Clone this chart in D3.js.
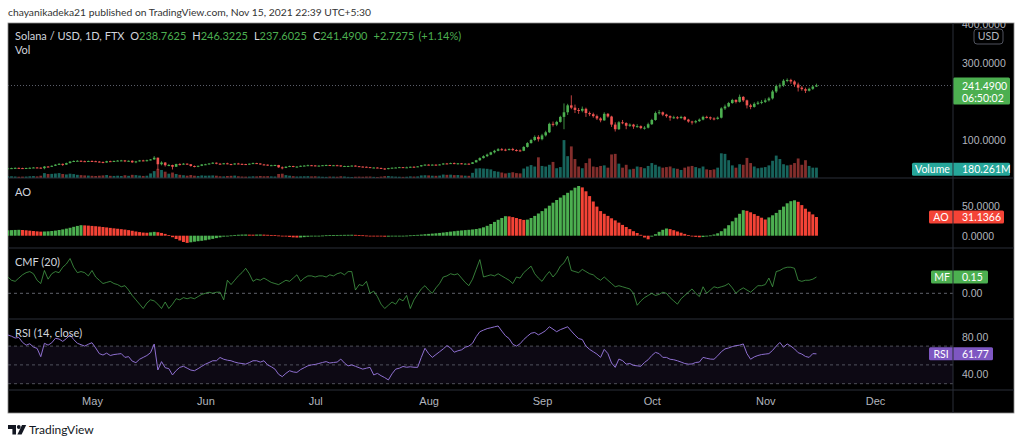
<!DOCTYPE html>
<html>
<head>
<meta charset="utf-8">
<script src="https://cdn.jsdelivr.net/npm/d3@7"></script>
<style>
	body { margin: 0; background: #fff; }
	svg { display: block; font-family: Lato, "Noto Sans", sans-serif; }
	.axis text { fill: #b2b5be; font-size: 10.5px; }
	.axis path { display: none; }
</style>
</head>
<body>
<svg id="chart" width="1024" height="444"></svg>
<script>

var startDate = '2021-04-08';
var firstOpen = 26.0;

var closes = [
	26.6, 27.0, 27.6, 27.1, 26.4, 27.3, 27.8, 28.6, 28.2, 26.8, 31.0, 30.5, 33.0, 36.0, 38.0, 36.0, 40.0, 44.0, 45.5, 46.0, 45.0, 44.0, 45.5,
	45.0, 44.0, 43.0, 41.5, 45.0, 44.0, 45.5, 46.5, 47.0, 44.5, 46.0, 42.0, 44.5, 47.0, 46.5, 47.5, 49.5, 54.0, 37.0, 41.5, 34.5, 35.0, 30.5, 37.5, 36.5, 38.5, 37.0, 32.5, 30.5, 33.0, 36.5,
	37.0, 39.0, 41.0, 38.5, 37.5, 39.5, 37.5, 37.0, 39.0, 38.0, 37.5, 36.5, 38.5, 40.0, 39.0, 36.5, 36.0, 34.0, 34.5, 35.0, 29.0, 27.5, 30.5, 32.5, 30.5, 31.0, 33.0, 33.5, 34.5, 34.0,
	32.5, 33.5, 34.5, 35.0, 33.5, 34.5, 34.0, 31.5, 32.5, 32.5, 33.5, 32.0, 31.0, 30.5, 29.5, 28.0, 28.5, 27.5, 26.0, 24.5, 27.0, 28.0, 28.5, 29.5, 28.5, 29.0, 30.5, 30.0, 31.5, 34.5, 36.0,
	35.0, 36.0, 35.0, 36.5, 39.0, 38.5, 40.0, 38.0, 39.5, 38.0, 38.5, 38.0, 42.0, 47.5, 53.0, 58.0, 62.0, 68.0, 72.0, 76.0, 75.0, 74.0, 76.5, 74.0, 73.0, 72.0, 82.0, 92.0, 100.0, 108.0, 102.0,
	112, 120, 142, 140, 147, 160, 172, 190, 184, 178, 176, 181, 170, 167, 162, 156, 151, 168, 161, 140, 128, 146, 144, 137, 140, 135, 136, 131, 132, 141,
	152, 170, 172, 166, 162, 158, 159, 157, 160, 153, 148, 146, 149, 153, 160, 159, 156, 155, 158, 182, 187, 196, 204, 199, 212, 203, 190, 186, 194, 197, 199,
	203, 208, 226, 240, 242, 254, 256, 252, 244, 236, 232, 228, 233, 238.7625, 241.49
];

var highs = [
	27.8, 28.0, 28.9, 28.4, 27.9, 28.2, 29.0, 29.4, 29.6, 28.9, 32.5, 32.4, 33.9, 37.2, 40.1, 38.8, 41.2, 45.1, 47.0, 47.8, 47.2, 46.5, 46.6,
	47.1, 46.2, 45.3, 44.0, 46.1, 46.4, 46.8, 48.0, 48.4, 48.1, 47.0, 47.2, 45.8, 48.2, 48.6, 49.0, 50.5, 58.3, 54.5, 44.8, 42.6, 37.8, 35.9, 38.4, 39.6, 40.2, 39.4, 37.5, 33.9, 33.6, 37.2,
	38.2, 39.8, 42.3, 41.6, 39.9, 40.3, 41.0, 38.2, 39.7, 40.6, 38.9, 38.1, 39.0, 41.4, 40.8, 39.5, 37.8, 36.4, 35.6, 35.8, 35.4, 31.4, 31.8, 33.5, 33.0, 31.7, 33.6, 34.8, 36.0, 35.2,
	34.4, 34.0, 35.0, 35.9, 35.4, 35.2, 35.6, 34.2, 33.1, 33.3, 34.0, 34.1, 32.5, 31.5, 31.2, 30.0, 29.2, 29.1, 28.0, 26.6, 27.6, 28.6, 29.0, 30.2, 29.9, 30.8, 31.0, 31.8, 32.0, 35.1, 36.9,
	37.0, 36.8, 36.6, 37.2, 39.8, 40.4, 41.2, 41.5, 40.1, 40.3, 39.6, 39.4, 42.8, 48.5, 55.0, 60.2, 64.8, 69.5, 74.5, 78.9, 79.0, 77.5, 78.2, 79.6, 76.1, 75.5, 84.0, 94.5, 103.0, 112.0, 112.5,
	116, 124, 145, 148, 150, 163, 195, 194, 216, 192, 183, 187, 184, 174, 171, 166, 159, 172, 170, 163, 146, 149, 152, 146, 143, 142, 141, 138, 136, 145,
	155, 174, 178, 174, 168, 164, 163, 162, 163, 162, 155, 150, 152, 156, 163, 163, 161, 159, 161, 185, 192, 199, 207, 206, 218, 214, 205, 194, 198, 201, 204,
	208, 212, 230, 244, 247, 258, 260, 259, 255, 249, 240, 236, 236, 242, 246.3225
];

var lows = [
	25.2, 25.9, 26.4, 26.5, 25.6, 25.9, 26.8, 27.2, 27.0, 25.8, 24.0, 29.6, 29.8, 32.4, 35.1, 32.6, 35.4, 39.2, 42.8, 44.6, 43.5, 42.7, 43.1,
	43.9, 42.9, 41.8, 39.6, 40.8, 42.9, 43.2, 44.9, 45.2, 42.6, 43.9, 40.5, 39.8, 43.8, 44.9, 44.2, 46.9, 48.8, 22.5, 34.2, 31.0, 31.9, 23.4, 29.8, 33.8, 35.8, 35.6, 30.8, 28.9, 29.4, 32.2,
	34.9, 36.4, 38.2, 36.9, 36.1, 37.0, 36.8, 34.6, 35.9, 37.2, 36.3, 35.0, 35.8, 37.9, 38.1, 36.0, 35.2, 33.2, 33.0, 32.6, 27.9, 23.8, 27.0, 29.6, 29.2, 28.8, 30.4, 32.2, 33.1, 32.8,
	31.8, 31.5, 33.0, 33.9, 32.6, 33.0, 33.4, 30.6, 30.9, 31.6, 32.0, 31.3, 30.3, 29.2, 28.9, 27.5, 27.6, 26.8, 25.6, 22.8, 24.0, 26.5, 27.3, 28.0, 27.8, 27.9, 28.0, 29.3, 29.6, 30.8, 33.8,
	34.2, 34.1, 33.9, 34.3, 35.5, 37.6, 38.0, 37.2, 36.4, 37.0, 37.5, 36.6, 37.6, 41.6, 45.5, 52.0, 55.6, 60.5, 65.2, 70.8, 72.4, 71.0, 72.8, 71.5, 70.2, 69.8, 71.0, 80.2, 90.5, 97.0, 96.0,
	99, 109, 118, 135, 136, 145, 128, 165, 180, 170, 168, 172, 160, 162, 158, 152, 146, 150, 158, 134, 122, 126, 141, 128, 134, 129, 132, 128, 127, 130,
	139, 150, 166, 162, 158, 150, 155, 154, 155, 151, 145, 140, 143, 147, 151, 156, 152, 151, 153, 156, 178, 185, 194, 195, 197, 199, 182, 180, 184, 191, 193,
	196, 200, 205, 222, 234, 238, 250, 246, 238, 226, 228, 222, 226, 230, 237.6025
];

// volume in millions
var volumes = [
	28, 30, 26, 22, 24, 25, 30, 34, 28, 40, 85, 70, 72, 78, 85, 70, 62, 75, 68, 55, 50, 45, 42,
	38, 35, 40, 45, 52, 38, 36, 40, 35, 48, 38, 55, 50, 42, 36, 40, 80, 120, 160, 140, 110, 75, 95, 70, 55, 48, 40, 52, 40, 36, 45,
	40, 42, 45, 40, 30, 28, 35, 38, 42, 30, 26, 24, 25, 30, 28, 35, 30, 32, 28, 26, 70, 75, 50, 40, 32, 26, 28, 30, 32, 28,
	30, 26, 22, 20, 25, 24, 22, 30, 26, 20, 18, 22, 24, 22, 25, 26, 20, 18, 24, 32, 35, 28, 24, 22, 20, 22, 28, 25, 28, 45, 48,
	45, 40, 38, 42, 60, 55, 58, 50, 52, 45, 40, 38, 90, 165, 170, 165, 160, 150, 120, 110, 95, 80, 90, 100, 85, 80, 165, 200, 225, 200, 360,
	210, 200, 230, 280, 170, 190, 660, 380, 550, 330, 200, 170, 260, 340, 200, 190, 210, 220, 180, 410, 420, 250, 180, 230, 150, 160, 200, 190, 170, 210,
	260, 230, 200, 180, 190, 200, 170, 160, 140, 180, 200, 210, 190, 170, 200, 150, 140, 150, 180, 430, 420, 310, 220, 180, 240, 230, 350, 260, 200, 170, 180,
	190, 220, 300, 390, 330, 240, 220, 230, 260, 340, 230, 310, 210, 180, 180.261
];

var aoValues = [
	9.0, 9.3, 9.6, 9.8, 9.5, 9.0, 8.4, 7.8, 7.2, 6.8, 7.0, 7.3, 7.8, 8.5, 9.5, 10.5, 11.8, 13.2, 14.8, 16.3, 17.5, 17.2, 16.8,
	16.3, 15.8, 15.2, 14.5, 13.8, 13.0, 12.3, 11.6, 10.9, 10.2, 9.3, 8.2, 7.0, 6.0, 5.2, 4.9, 5.6, 6.4, 5.8, 4.6, 3.0, 1.0, -2.5, -5.5, -8.0, -10.5, -12.0, -11.0, -10.0, -9.2, -8.5,
	-7.6, -6.5, -5.3, -4.0, -2.8, -1.6, -0.5, 0.5, 1.2, 1.6, 1.9, 2.0, 1.8, 1.7, 1.9, 2.0, 1.8, 1.5, 1.2, 0.9, 0.4, -0.5, -1.4, -2.2, -2.8, -3.1, -3.0, -2.4, -1.8, -1.2,
	-0.6, -0.1, 0.3, 0.7, 0.9, 1.1, 1.2, 1.3, 1.4, 1.5, 1.6, 1.4, 1.1, 0.7, 0.3, -0.1, -0.5, -0.9, -1.3, -1.7, -1.6, -1.3, -1.0, -0.6, -0.2, 0.2, 0.6, 1.0, 1.4, 1.9, 2.5,
	3.0, 3.5, 4.0, 4.6, 5.3, 6.0, 6.8, 7.5, 8.2, 8.8, 9.3, 9.8, 10.4, 11.2, 12.3, 14.0, 16.5, 19.5, 23.0, 26.5, 29.5, 32.5, 32.2, 31.0, 29.5, 27.8, 26.3, 26.8, 29.5, 33.0, 37.0,
	41.0, 45.5, 50.0, 55.0, 59.5, 63.5, 67.5, 71.5, 75.5, 80.0, 82.8, 80.5, 74.0, 66.0, 57.0, 48.5, 41.0, 36.5, 33.0, 29.0, 25.5, 21.8, 18.0, 14.5, 11.0, 7.5, 4.5, 1.5, -3.0, -6.0,
	-1.5, 2.5, 6.5, 9.8, 12.0, 11.0, 9.2, 7.0, 5.0, 3.0, 1.2, -0.5, -2.0, -2.6, -2.2, -0.8, 0.5, 2.0, 4.0, 7.5, 12.0, 17.5, 24.0, 30.0, 36.5, 42.5, 41.5, 39.0, 36.0, 33.0, 30.0,
	27.0, 30.5, 34.0, 38.0, 43.0, 48.5, 54.0, 57.5, 59.0, 56.5, 51.0, 45.0, 40.0, 35.5, 31.1366
];

var cmfValues = [
	0.15, 0.12, 0.11, 0.14, 0.17, 0.19, 0.20, 0.18, 0.12, 0.09, 0.21, 0.13, 0.18, 0.20, 0.19, 0.24, 0.27, 0.32, 0.24, 0.19, 0.20, 0.19, 0.16,
	0.21, 0.15, 0.12, 0.09, 0.10, 0.11, 0.09, 0.08, 0.06, 0.07, 0.03, -0.02, -0.06, -0.10, -0.14, -0.09, -0.06, -0.07, -0.10, -0.14, -0.08, -0.14, -0.10, -0.05, -0.06, -0.04, -0.05, -0.04, -0.05, -0.03, -0.01,
	0.00, 0.01, 0.00, 0.01, 0.01, -0.06, 0.12, 0.08, 0.12, 0.16, 0.19, 0.23, 0.18, 0.11, 0.13, 0.12, 0.14, 0.12, 0.10, 0.09, 0.08, 0.10, 0.12, 0.11, 0.14, 0.17, 0.11, 0.14, 0.16, 0.16,
	0.15, 0.16, 0.16, 0.15, 0.17, 0.16, 0.18, 0.19, 0.17, 0.20, 0.20, 0.03, 0.08, 0.07, 0.11, 0.00, 0.02, -0.03, -0.10, -0.14, -0.11, -0.08, -0.10, -0.05, -0.07, -0.02, -0.14, -0.06, -0.01, 0.04, 0.07,
	0.03, 0.00, 0.05, 0.09, 0.15, 0.16, 0.18, 0.17, 0.18, 0.14, 0.10, 0.07, 0.13, 0.22, 0.31, 0.15, 0.16, 0.17, 0.16, 0.18, 0.16, 0.14, 0.12, 0.09, 0.15, 0.14, 0.19, 0.22, 0.25, 0.18, 0.14,
	0.11, 0.16, 0.20, 0.15, 0.19, 0.25, 0.28, 0.34, 0.21, 0.20, 0.19, 0.22, 0.20, 0.18, 0.17, 0.14, 0.12, 0.15, 0.12, 0.09, 0.06, 0.07, 0.06, 0.05, 0.04, 0.00, -0.11, -0.07, -0.04, -0.02,
	0.00, -0.02, -0.01, 0.01, 0.00, -0.04, -0.07, -0.10, -0.05, -0.02, 0.01, 0.04, 0.00, -0.03, 0.06, 0.00, 0.03, 0.06, 0.05, 0.06, 0.07, 0.09, 0.05, 0.00, 0.03, 0.05, 0.03, 0.01, 0.04, 0.07, 0.07,
	0.08, 0.14, 0.06, 0.20, 0.21, 0.23, 0.24, 0.24, 0.23, 0.12, 0.11, 0.12, 0.12, 0.13, 0.15
];

var rsiValues = [
	81.8, 80.5, 78.6, 79.2, 74.0, 71.0, 72.5, 69.0, 67.5, 58.7, 73.0, 71.0, 73.5, 78.3, 77.5, 75.0, 78.0, 81.8, 77.0, 73.0, 71.5, 70.0, 72.0,
	73.6, 68.0, 62.0, 60.5, 62.5, 60.0, 61.0, 61.5, 62.0, 58.0, 58.8, 54.0, 52.4, 56.0, 58.0, 60.0, 63.0, 72.2, 44.6, 53.5, 47.0, 46.0, 39.3, 44.0, 47.4, 48.5, 46.5, 44.5, 43.8, 46.0, 48.5,
	50.8, 52.5, 54.4, 54.4, 57.9, 56.0, 55.0, 54.4, 53.0, 52.0, 51.5, 50.8, 52.5, 54.4, 54.4, 53.0, 54.4, 50.0, 48.0, 45.5, 40.0, 37.5, 41.0, 43.8, 42.5, 42.0, 45.0, 47.0, 49.0, 50.0,
	50.5, 51.5, 52.6, 53.5, 52.0, 52.6, 53.0, 56.2, 52.0, 49.0, 50.0, 48.5, 47.0, 45.5, 46.5, 47.4, 39.3, 41.0, 38.5, 36.5, 34.0, 40.5, 45.5, 46.5, 48.3, 47.5, 48.0, 47.5, 47.4, 58.0, 67.7,
	62.0, 58.0, 61.0, 64.0, 67.0, 70.5, 68.0, 63.5, 65.0, 66.0, 68.8, 70.0, 73.0, 80.0, 85.3, 87.0, 88.6, 89.5, 90.5, 91.4, 86.0, 81.0, 78.0, 72.0, 70.0, 72.5, 77.0, 80.5, 83.7, 84.5, 82.0,
	84.0, 86.5, 90.6, 88.0, 85.3, 87.5, 89.0, 90.6, 86.0, 81.7, 78.0, 77.0, 70.0, 66.5, 64.0, 61.5, 58.0, 66.5, 62.0, 52.0, 47.4, 56.2, 54.5, 50.8, 51.5, 49.5, 49.0, 48.5, 52.6, 55.5,
	60.0, 63.3, 62.0, 58.0, 58.0, 56.0, 55.5, 54.4, 53.0, 51.5, 50.8, 51.0, 52.6, 53.0, 58.0, 57.0, 56.2, 56.0, 59.7, 64.0, 67.0, 68.0, 69.5, 70.5, 71.0, 72.3, 62.0, 56.0, 58.5, 60.0, 61.0,
	61.5, 62.0, 65.4, 70.0, 73.9, 68.8, 72.3, 70.0, 67.0, 63.0, 61.5, 59.0, 58.0, 62.0, 61.77
];

var monthStarts = [ '2021-05-01', '2021-06-01', '2021-07-01', '2021-08-01', '2021-09-01', '2021-10-01', '2021-11-01', '2021-12-01' ];
var monthLabels = [ 'May', 'Jun', 'Jul', 'Aug', 'Sep', 'Oct', 'Nov', 'Dec' ];
var priceTicks = [ 100, 300, 400 ];
var aoTicks = [ 0, 50 ];
var cmfTicks = [ 0 ];
var rsiTicks = [ 40, 80 ];
var rsiLevels = [ 30, 50, 70 ];

var svg = d3.select( '#chart' );

var left = 8, axisX = 953, right = 1014;
var pane = {
	main: { top: 23, bottom: 178 },
	ao: { top: 178, bottom: 248 },
	cmf: { top: 248, bottom: 319 },
	rsi: { top: 319, bottom: 390 }
};
var chartBottom = 413;

var green = '#4caf50', red = '#ef5350', grey = '#b2b5be', label = '#d1d4dc';

var parse = d3.utcParse( '%Y-%m-%d' );
var t0 = parse( startDate );

var data = closes.map( function ( c, i ) {
	return {
		date: d3.utcDay.offset( t0, i ),
		open: i ? closes[i - 1] : firstOpen,
		high: highs[i],
		low: lows[i],
		close: c,
		vol: volumes[i],
		ao: aoValues[i],
		cmf: cmfValues[i],
		rsi: rsiValues[i]
	};
} );

var monthDates = monthStarts.map( parse );
var x = d3.scaleUtc().domain( [ monthDates[0], monthDates[monthDates.length - 1] ] ).range( [ 92, 875 ] );

var yPrice = d3.scaleLinear().domain( [ 0, 400 ] ).range( [ 178.5, 24.5 ] );
var yVol = d3.scaleLinear().domain( [ 0, 700 ] ).range( [ pane.main.bottom, 137.8 ] );
var yAO = d3.scaleLinear().domain( [ 0, 50 ] ).range( [ 235.7, 205.7 ] );
var yCMF = d3.scaleLinear().domain( [ 0, 0.15 ] ).range( [ 293.3, 277 ] );
var yRSI = d3.scaleLinear().domain( [ 40, 80 ] ).range( [ 374.3, 336.7 ] );

// header
svg.append( 'text' )
	.attr( 'x', 8 ).attr( 'y', 16 )
	.style( 'font-size', '10.3px' ).style( 'fill', '#333' )
	.text( 'chayanikadeka21 published on TradingView.com, Nov 15, 2021 22:39 UTC+5:30' );

svg.append( 'rect' )
	.attr( 'x', left ).attr( 'y', pane.main.top )
	.attr( 'width', right - left ).attr( 'height', chartBottom - pane.main.top )
	.style( 'fill', '#000' ).style( 'stroke', '#8a8a8a' ).style( 'stroke-width', 0.8 );

var defs = svg.append( 'defs' );
_clip( 'clip-main', pane.main );
_clip( 'clip-ao', pane.ao );
_clip( 'clip-cmf', pane.cmf );
_clip( 'clip-rsi', pane.rsi );
defs.append( 'clipPath' ).attr( 'id', 'clip-axis' ).append( 'rect' )
	.attr( 'x', axisX ).attr( 'y', pane.main.top ).attr( 'width', right - axisX ).attr( 'height', chartBottom - pane.main.top );

function _clip( id, p ) {
	defs.append( 'clipPath' ).attr( 'id', id ).append( 'rect' )
		.attr( 'x', left ).attr( 'y', p.top ).attr( 'width', axisX - left ).attr( 'height', p.bottom - p.top );
}

// ---- main pane: volume + candles
var main = svg.append( 'g' ).attr( 'clip-path', 'url(#clip-main)' );

main.append( 'line' )
	.attr( 'x1', left ).attr( 'x2', axisX )
	.attr( 'y1', yPrice( closes[closes.length - 1] ) ).attr( 'y2', yPrice( closes[closes.length - 1] ) )
	.style( 'stroke', '#5d606b' ).style( 'stroke-dasharray', '1,2' ).style( 'stroke-width', 1 );

main.selectAll( 'rect.vol' )
	.data( data )
	.enter()
	.append( 'rect' )
	.classed( 'vol', true )
	.attr( 'x', function ( d ) { return x( d.date ) - 1.4; } )
	.attr( 'width', 2.8 )
	.attr( 'y', function ( d ) { return yVol( d.vol ); } )
	.attr( 'height', function ( d ) { return yVol( 0 ) - yVol( d.vol ); } )
	.style( 'fill', function ( d ) { return d.close >= d.open ? '#26a69a' : '#ef5350'; } )
	.style( 'opacity', function ( d ) { return d.close >= d.open ? 0.6 : 0.55; } );

var candles = main.selectAll( 'g.candle' )
	.data( data )
	.enter()
	.append( 'g' )
	.classed( 'candle', true );

candles.append( 'line' )
	.attr( 'x1', function ( d ) { return x( d.date ); } )
	.attr( 'x2', function ( d ) { return x( d.date ); } )
	.attr( 'y1', function ( d ) { return yPrice( d.high ); } )
	.attr( 'y2', function ( d ) { return yPrice( d.low ); } )
	.style( 'stroke', function ( d ) { return d.close >= d.open ? green : red; } )
	.style( 'stroke-width', 0.8 );

candles.append( 'rect' )
	.attr( 'x', function ( d ) { return x( d.date ) - 1.3; } )
	.attr( 'width', 2.6 )
	.attr( 'y', function ( d ) { return yPrice( Math.max( d.open, d.close ) ); } )
	.attr( 'height', function ( d ) { return Math.max( 1, Math.abs( yPrice( d.open ) - yPrice( d.close ) ) ); } )
	.style( 'fill', function ( d ) { return d.close >= d.open ? green : red; } );

// ---- AO pane
var aoG = svg.append( 'g' ).attr( 'clip-path', 'url(#clip-ao)' );
aoG.selectAll( 'rect' )
	.data( data )
	.enter()
	.append( 'rect' )
	.attr( 'x', function ( d ) { return x( d.date ) - 1.5; } )
	.attr( 'width', 3 )
	.attr( 'y', function ( d ) { return Math.min( yAO( d.ao ), yAO( 0 ) ); } )
	.attr( 'height', function ( d ) { return Math.max( 0.8, Math.abs( yAO( d.ao ) - yAO( 0 ) ) ); } )
	.style( 'fill', function ( d, i ) { return ( i === 0 || d.ao >= data[i - 1].ao ) ? green : '#f44336'; } );

// ---- CMF pane
var cmfG = svg.append( 'g' ).attr( 'clip-path', 'url(#clip-cmf)' );
cmfG.append( 'line' )
	.attr( 'x1', left ).attr( 'x2', axisX )
	.attr( 'y1', yCMF( 0 ) ).attr( 'y2', yCMF( 0 ) )
	.style( 'stroke', '#787b86' ).style( 'stroke-dasharray', '3,3' ).style( 'stroke-width', 0.8 );
cmfG.append( 'path' )
	.datum( data )
	.attr( 'd', d3.line()
		.x( function ( d ) { return x( d.date ); } )
		.y( function ( d ) { return yCMF( d.cmf ); } ) )
	.style( 'fill', 'none' ).style( 'stroke', '#4caf50' ).style( 'stroke-width', 1 ).style( 'opacity', 0.7 );

// ---- RSI pane
var rsiG = svg.append( 'g' ).attr( 'clip-path', 'url(#clip-rsi)' );
rsiG.append( 'rect' )
	.attr( 'x', left ).attr( 'width', axisX - left )
	.attr( 'y', yRSI( rsiLevels[2] ) ).attr( 'height', yRSI( rsiLevels[0] ) - yRSI( rsiLevels[2] ) )
	.style( 'fill', '#7e57c2' ).style( 'opacity', 0.1 );
rsiG.selectAll( 'line.level' )
	.data( rsiLevels )
	.enter()
	.append( 'line' )
	.classed( 'level', true )
	.attr( 'x1', left ).attr( 'x2', axisX )
	.attr( 'y1', function ( d ) { return yRSI( d ); } )
	.attr( 'y2', function ( d ) { return yRSI( d ); } )
	.style( 'stroke', '#787b86' ).style( 'stroke-dasharray', '3,3' ).style( 'stroke-width', 0.8 ).style( 'opacity', 0.8 );
rsiG.append( 'path' )
	.datum( data )
	.attr( 'd', d3.line()
		.x( function ( d ) { return x( d.date ); } )
		.y( function ( d ) { return yRSI( d.rsi ); } ) )
	.style( 'fill', 'none' ).style( 'stroke', '#8e6fd0' ).style( 'stroke-width', 1 );

// ---- separators
[ pane.main.bottom, pane.ao.bottom, pane.cmf.bottom, pane.rsi.bottom ].forEach( function ( yy ) {
	svg.append( 'line' )
		.attr( 'x1', left ).attr( 'x2', right ).attr( 'y1', yy ).attr( 'y2', yy )
		.style( 'stroke', '#2a2e39' ).style( 'stroke-width', 1 );
} );

// ---- pane titles
var legend = svg.append( 'text' ).attr( 'x', 15 ).attr( 'y', 40 ).style( 'font-size', '11px' );
[
	[ 0, 'Solana / USD, 1D, FTX', label ],
	[ 6, 'O', label ], [ 0, '238.7625', green ],
	[ 6, 'H', label ], [ 0, '246.3225', green ],
	[ 6, 'L', label ], [ 0, '237.6025', green ],
	[ 6, 'C', label ], [ 0, '241.4900', green ],
	[ 6, '+2.7275', green ], [ 4, '(+1.14%)', green ]
].forEach( function ( p ) {
	legend.append( 'tspan' ).attr( 'dx', p[0] ).style( 'fill', p[2] ).text( p[1] );
} );

[ [ 54, 'Vol' ], [ 196, 'AO' ], [ 266, 'CMF (20)' ], [ 337, 'RSI (14, close)' ] ].forEach( function ( t ) {
	svg.append( 'text' )
		.attr( 'x', 15 ).attr( 'y', t[0] )
		.style( 'font-size', '11px' ).style( 'fill', label )
		.text( t[1] );
} );

// ---- right axes
var axes = svg.append( 'g' ).attr( 'clip-path', 'url(#clip-axis)' );

axes.append( 'g' ).classed( 'axis', true )
	.attr( 'transform', 'translate(' + axisX + ',0)' )
	.call( d3.axisRight( yPrice ).tickValues( priceTicks ).tickFormat( d3.format( '.4f' ) ).tickSize( 0 ).tickPadding( 9 ) );
axes.append( 'g' ).classed( 'axis', true )
	.attr( 'transform', 'translate(' + axisX + ',0)' )
	.call( d3.axisRight( yAO ).tickValues( aoTicks ).tickFormat( d3.format( '.4f' ) ).tickSize( 0 ).tickPadding( 9 ) );
axes.append( 'g' ).classed( 'axis', true )
	.attr( 'transform', 'translate(' + axisX + ',0)' )
	.call( d3.axisRight( yCMF ).tickValues( cmfTicks ).tickFormat( d3.format( '.2f' ) ).tickSize( 0 ).tickPadding( 9 ) );
axes.append( 'g' ).classed( 'axis', true )
	.attr( 'transform', 'translate(' + axisX + ',0)' )
	.call( d3.axisRight( yRSI ).tickValues( rsiTicks ).tickFormat( d3.format( '.2f' ) ).tickSize( 0 ).tickPadding( 9 ) );

// USD badge
svg.append( 'rect' )
	.attr( 'x', 974 ).attr( 'y', 29 ).attr( 'width', 29 ).attr( 'height', 15 ).attr( 'rx', 3 )
	.style( 'fill', '#000' ).style( 'stroke', '#50535e' ).style( 'stroke-width', 1 );
svg.append( 'text' )
	.attr( 'x', 988.5 ).attr( 'y', 40 ).attr( 'text-anchor', 'middle' )
	.style( 'font-size', '10.5px' ).style( 'fill', grey )
	.text( 'USD' );

// last value badges
function badge( yc, x0, x1, name, value, color ) {
	var h = 13;
	svg.append( 'rect' )
		.attr( 'x', x0 ).attr( 'y', yc - h / 2 ).attr( 'width', x1 - x0 ).attr( 'height', h ).attr( 'rx', 1.5 )
		.style( 'fill', color );
	svg.append( 'text' )
		.attr( 'x', ( x0 + axisX ) / 2 ).attr( 'y', yc + 4 ).attr( 'text-anchor', 'middle' )
		.style( 'font-size', '10.5px' ).style( 'fill', '#fff' )
		.text( name );
	svg.append( 'text' )
		.attr( 'x', 962 ).attr( 'y', yc + 4 )
		.style( 'font-size', '10.5px' ).style( 'fill', '#fff' )
		.text( value );
}

var last = data[data.length - 1];
badge( yVol( last.vol ) + 1.5, 912, 1010, 'Volume', '180.261M', '#26a69a' );
badge( yAO( last.ao ), 929, 1004, 'AO', '31.1366', '#f44336' );
badge( yCMF( last.cmf ), 931, 988, 'MF', '0.15', green );
badge( yRSI( last.rsi ), 929, 993, 'RSI', '61.77', '#7e57c2' );

var py = yPrice( last.close );
svg.append( 'rect' )
	.attr( 'x', axisX ).attr( 'y', py - 8 ).attr( 'width', 57 ).attr( 'height', 27 ).attr( 'rx', 1.5 )
	.style( 'fill', green );
svg.append( 'text' ).attr( 'x', 962 ).attr( 'y', py + 4 )
	.style( 'font-size', '10.5px' ).style( 'fill', '#fff' ).text( '241.4900' );
svg.append( 'text' ).attr( 'x', 962 ).attr( 'y', py + 16 )
	.style( 'font-size', '10.5px' ).style( 'fill', '#fff' ).text( '06:50:02' );

svg.append( 'line' )
	.attr( 'x1', axisX ).attr( 'x2', axisX ).attr( 'y1', pane.main.top ).attr( 'y2', chartBottom )
	.style( 'stroke', '#2a2e39' ).style( 'stroke-width', 1 );

// ---- time axis
svg.append( 'g' ).classed( 'axis', true )
	.attr( 'transform', 'translate(0,' + ( pane.rsi.bottom + 7 ) + ')' )
	.call( d3.axisBottom( x ).tickValues( monthDates )
		.tickFormat( function ( d, i ) { return monthLabels[i]; } )
		.tickSize( 0 ).tickPadding( 0 ) )
	.selectAll( 'text' ).style( 'font-size', '11px' );

// ---- footer logo
var logo = svg.append( 'g' ).style( 'fill', '#131722' );
logo.append( 'path' ).attr( 'd', 'M8,425 h8 v9.5 h-3.6 v-5.6 h-4.4 z' );
logo.append( 'circle' ).attr( 'cx', 18.8 ).attr( 'cy', 427 ).attr( 'r', 1.9 );
logo.append( 'path' ).attr( 'd', 'M22,425 h4.2 l-4.6,9.5 h-4.2 z' );
svg.append( 'text' )
	.attr( 'x', 29 ).attr( 'y', 434 )
	.style( 'font-size', '12px' ).style( 'fill', '#131722' )
	.text( 'TradingView' );

</script>
</body>
</html>
